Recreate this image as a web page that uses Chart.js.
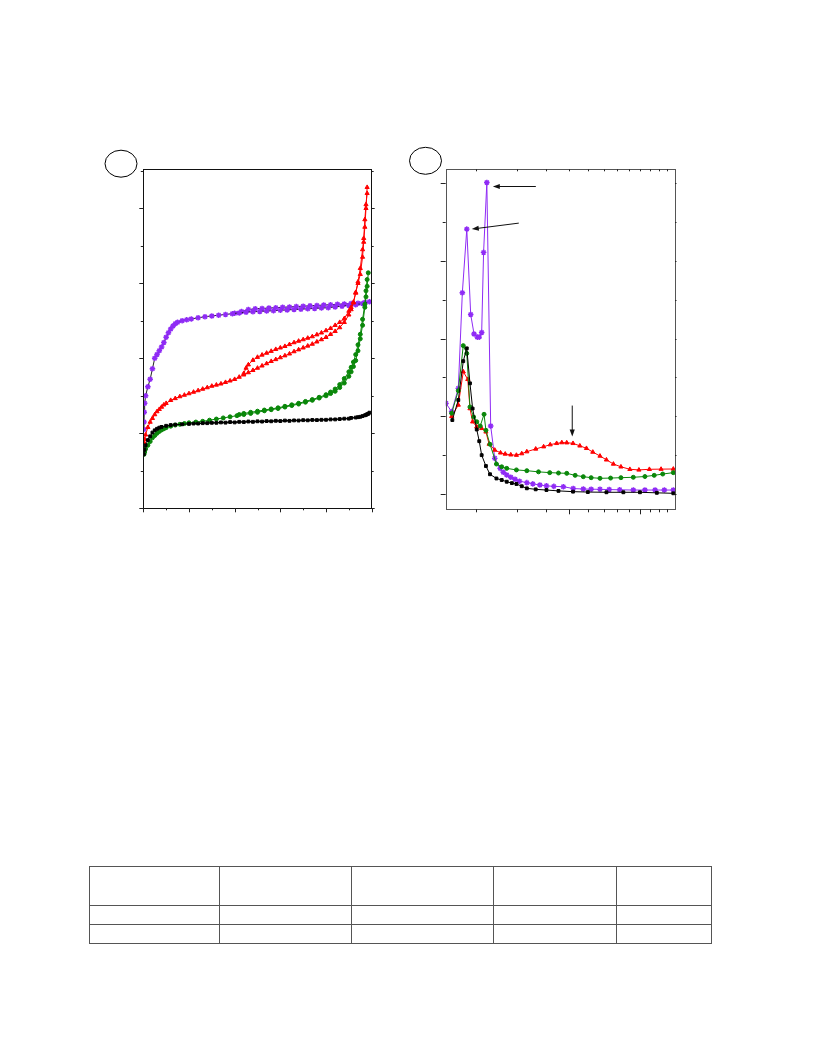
<!DOCTYPE html>
<html>
<head>
<meta charset="utf-8">
<script src="https://cdn.jsdelivr.net/npm/chart.js@4.4.1/dist/chart.umd.min.js"></script>
<style>
  body { margin: 0; background: #fff; width: 816px; height: 1056px; position: relative; font-family: "Liberation Serif", serif; }
  canvas { position: absolute; }
  #chartA { left: 100px; top: 140px; }
  #chartB { left: 400px; top: 140px; }
  table { position: absolute; left: 89px; top: 866px; border-collapse: collapse; }
  td { border: 1px solid #555; padding: 0; }
</style>
</head>
<body>
<canvas id="chartA" width="290" height="380"></canvas>
<canvas id="chartB" width="290" height="380"></canvas>
<table>
  <tr style="height:39px"><td style="width:129px"></td><td style="width:131px"></td><td style="width:141px"></td><td style="width:122px"></td><td style="width:94px"></td></tr>
  <tr style="height:19px"><td></td><td></td><td></td><td></td><td></td></tr>
  <tr style="height:19px"><td></td><td></td><td></td><td></td><td></td></tr>
</table>
<script>
// ---- (a) isotherms: relative pressure vs. adsorbed amount ----
const purpleAdsX = [0.002,0.003,0.004,0.006,0.01,0.02,0.03,0.04,0.05,0.06,0.07,0.08,0.09,0.10,0.11,0.12,0.13,0.14,0.15,0.17,0.19,0.21,0.24,0.27,0.30,0.33,0.36,0.39,0.42,0.45,0.48,0.51,0.54,0.57,0.60,0.63,0.66,0.69,0.72,0.75,0.78,0.81,0.84,0.87,0.90,0.93,0.96,0.99];
const purpleAdsY = [105,115,128,140,150,162,172,186,200,205,210,215,221,228,234,239,243,246,248,250,251.5,252.5,254,255.5,256.5,257.5,258.5,259.5,260.5,261.5,262,262.5,263,263.5,264,264.5,265,265.5,266,266.5,267,267.5,268.5,269.5,270.5,271.5,273,275.5];
const purpleDesX = [0.97,0.94,0.91,0.88,0.85,0.82,0.79,0.76,0.73,0.70,0.67,0.64,0.61,0.58,0.55,0.52,0.49,0.46,0.43,0.40];
const purpleDesY = [274.5,273.5,273,272.5,272,271.5,271,270.5,270,269.5,269,268.5,268,267.5,267,266.5,266,265,262.5,260];

const redAdsX = [0.003,0.006,0.01,0.02,0.03,0.04,0.05,0.06,0.07,0.08,0.09,0.10,0.12,0.14,0.16,0.18,0.20,0.22,0.24,0.26,0.28,0.30,0.32,0.34,0.36,0.38,0.40,0.42,0.44,0.46,0.48,0.50,0.52,0.54,0.56,0.58,0.60,0.62,0.64,0.66,0.68,0.70,0.72,0.74,0.76,0.78,0.80,0.82,0.84,0.86,0.88,0.90,0.91,0.92,0.93,0.94,0.95,0.96,0.965,0.97,0.975,0.98];
const redAdsY = [88,92,98,108,115,120,125,129,132,135,138,140,144,146.5,149,151,153,155,157,159,161,163,164.5,166,168,170,172,175,178,181,184,187,190,193,196,198.5,201,203.5,206,209,211.5,214,216.5,219,222,225,228,232,236,241,248,258,265,275,288,300,312,335,355,375,400,428];
const redDesX = [0.98,0.975,0.97,0.965,0.96,0.95,0.94,0.93,0.92,0.91,0.90,0.88,0.86,0.84,0.82,0.80,0.78,0.76,0.74,0.72,0.70,0.68,0.66,0.64,0.62,0.60,0.58,0.56,0.54,0.52,0.50,0.48,0.46,0.45,0.44];
const redDesY = [420,405,385,360,345,320,302,287,274,268,263,253,248,244,240,237,234,231.5,229,227,225,223,221,218.5,216,214,212,209.5,207,204.5,201.5,197.5,191.5,187,180];

const greenAdsX = [0.003,0.006,0.01,0.02,0.03,0.04,0.05,0.06,0.07,0.08,0.09,0.10,0.12,0.14,0.16,0.18,0.20,0.23,0.26,0.29,0.32,0.35,0.38,0.41,0.44,0.47,0.50,0.53,0.56,0.59,0.62,0.65,0.68,0.71,0.74,0.77,0.80,0.82,0.84,0.86,0.88,0.90,0.91,0.92,0.93,0.94,0.95,0.96,0.97,0.975,0.98,0.985];
const greenAdsY = [72,75,79,84,89,94,97,100,102.5,104.5,106,107.5,109.5,111,112,113,114,115,116,117.5,119,120.5,122,123.5,125,126.5,128,130,131.5,133,135,137,139,141.5,144,147,150,153,156,161,167,176,182,189,197,210,226,244,268,282,296,314];
const greenDesX = [0.98,0.975,0.97,0.96,0.95,0.94,0.93,0.92,0.91,0.90,0.88,0.86,0.84,0.82,0.80,0.77,0.74,0.71,0.68,0.65,0.62,0.59,0.56,0.53,0.50,0.47,0.44,0.42];
const greenDesY = [305,290,272,252,232,218,205,195,188,182,173,165,159,155,151.5,148,145,142.5,140,138,136,134,132.5,131,129.5,128,126.5,125];

const blackAdsX = [0.002,0.005,0.01,0.02,0.03,0.04,0.05,0.06,0.07,0.08,0.10,0.12,0.14,0.17,0.20,0.24,0.28,0.32,0.36,0.40,0.44,0.48,0.52,0.56,0.60,0.64,0.68,0.72,0.76,0.80,0.84,0.88,0.91,0.94,0.96,0.975,0.985,0.99];
const blackAdsY = [72,78,84,91,96,101,104,106,107.5,108.5,110,111,111.5,112,112.5,113,113.5,114,114.2,114.5,115,115.3,115.6,116,116.3,116.6,117,117.3,117.6,118,118.5,119.5,120.5,121.5,123,124.5,126,127.5];
const blackDesX = [0.98,0.97,0.95,0.93,0.90,0.86,0.82,0.78,0.74,0.70,0.66,0.62,0.58,0.54,0.50,0.46,0.42,0.38,0.34,0.30,0.26,0.22];
const blackDesY = [125.5,124,122,121,119.5,119,118.5,118,117.8,117.5,117.2,117,116.7,116.3,116,115.7,115.3,115,114.5,114,113.5,113];

const aXMajor = [0,0.2,0.4,0.6,0.8,1.0];
const aXMinor = [0.1,0.3,0.5,0.7,0.9];
const aYMajor = [0,100,200,300,400];
const aYMinor = [50,150,250,350,450];

// ---- (b) pore size distribution (log x) ----
const bPurpleX = [1.494,1.58,1.686,1.754,1.832,1.904,1.967,2.03,2.07,2.12,2.16,2.23,2.316,2.41,2.54,2.62,2.71,2.82,2.94,3.07,3.30,3.50,3.75,4.0,4.3,4.72,5.2,5.74,6.2,6.76,7.4,8.2,9.37,10.5,11.6,12.7,13.87];
const bPurpleY = [1.167,1.06,1.36,2.59,3.41,2.31,2.06,2.02,2.02,2.08,3.11,4.01,0.875,0.459,0.33,0.28,0.245,0.215,0.19,0.165,0.146,0.13,0.116,0.105,0.098,0.094,0.07,0.064,0.062,0.06,0.057,0.054,0.051,0.051,0.051,0.051,0.051];
const bGreenX = [1.58,1.686,1.77,1.832,1.89,1.96,2.02,2.09,2.17,2.21,2.30,2.45,2.58,2.71,2.98,3.30,3.7,4.13,4.5,4.88,5.3,5.74,6.2,6.76,7.5,8.3,9.37,10.5,11.5,12.5,13.87];
const bGreenY = [1.04,1.33,1.91,1.81,1.12,0.99,0.93,0.875,1.026,0.82,0.64,0.386,0.35,0.33,0.31,0.30,0.285,0.275,0.27,0.266,0.24,0.223,0.21,0.202,0.205,0.21,0.215,0.225,0.24,0.257,0.275];
const bRedX = [1.58,1.686,1.77,1.85,1.89,1.94,2.02,2.12,2.21,2.28,2.41,2.55,2.67,2.82,2.98,3.14,3.30,3.6,3.89,4.15,4.42,4.65,4.88,5.19,5.55,5.92,6.3,6.76,7.2,7.71,8.3,9.06,9.9,10.97,12.3,13.87];
const bRedY = [1.0,1.146,1.574,1.476,1.10,0.93,0.866,0.845,0.80,0.643,0.566,0.53,0.515,0.505,0.50,0.52,0.545,0.58,0.609,0.635,0.652,0.662,0.66,0.652,0.62,0.588,0.54,0.489,0.44,0.386,0.35,0.318,0.31,0.318,0.32,0.322];
const bBlackX = [1.59,1.686,1.77,1.832,1.89,1.94,2.02,2.07,2.12,2.21,2.30,2.45,2.58,2.71,2.85,2.98,3.14,3.30,3.6,4.0,4.5,5.19,6.0,7.2,8.5,10.0,11.8,13.87];
const bBlackY = [0.952,1.21,1.71,1.875,1.425,1.10,0.83,0.68,0.50,0.36,0.254,0.20,0.18,0.158,0.14,0.129,0.1,0.073,0.06,0.051,0.04,0.03,0.025,0.022,0.022,0.022,0.015,0.009];

const bXTicks = [2,3,4,5,6,7,8,9,10,11,12,13];
const bXMajor = [5,10];
const bYMajor = [0,1,2,3,4];
const bYMinor = [0.5,1.5,2.5,3.5];

const PURPLE = '#8f2bf5';
const RED = '#ff0000';
const GREEN = '#0a870a';
const BLACK = '#000000';

function pts(xs, ys) {
    return xs.map((x, i) => ({ x: x, y: ys[i] }));
}

function series(xs, ys, color, style, radius, lineColor) {
    return {
        data: pts(xs, ys),
        borderColor: lineColor || color,
        backgroundColor: color,
        pointBorderColor: color,
        pointBackgroundColor: color,
        pointStyle: style,
        pointRadius: radius,
        pointBorderWidth: style === 'star' ? 1.4 : 1,
        borderWidth: 1,
        tension: 0
    };
}

// frame, tick marks and the circled panel letter
function axesPlugin(cfg) {
    return {
        id: 'frameTicks',
        afterDraw(chart) {
            const ctx = chart.ctx;
            const a = chart.chartArea;
            const xs = chart.scales.x, ys = chart.scales.y;
            ctx.save();
            ctx.strokeStyle = cfg.frameColor;
            ctx.lineWidth = 1;
            ctx.strokeRect(Math.round(a.left) + 0.5, Math.round(a.top) + 0.5, Math.round(a.right - a.left), Math.round(a.bottom - a.top));
            ctx.strokeStyle = '#222';
            ctx.beginPath();
            cfg.yMajor.forEach(v => {
                const y = Math.round(ys.getPixelForValue(v)) + 0.5;
                ctx.moveTo(a.left, y); ctx.lineTo(a.left - cfg.yMajLen, y);
                ctx.moveTo(a.right, y); ctx.lineTo(a.right + cfg.rMajLen, y);
            });
            cfg.yMinor.forEach(v => {
                const y = Math.round(ys.getPixelForValue(v)) + 0.5;
                ctx.moveTo(a.left, y); ctx.lineTo(a.left - cfg.yMinLen, y);
                ctx.moveTo(a.right, y); ctx.lineTo(a.right + cfg.rMinLen, y);
            });
            cfg.xMajor.forEach(v => {
                const x = Math.round(xs.getPixelForValue(v)) + 0.5;
                ctx.moveTo(x, a.bottom); ctx.lineTo(x, a.bottom + cfg.xMajLen);
                if (cfg.topLen) { ctx.moveTo(x, a.top); ctx.lineTo(x, a.top + cfg.topLen); }
            });
            cfg.xMinor.forEach(v => {
                const x = Math.round(xs.getPixelForValue(v)) + 0.5;
                ctx.moveTo(x, a.bottom); ctx.lineTo(x, a.bottom + cfg.xMinLen);
                if (cfg.topLen) { ctx.moveTo(x, a.top); ctx.lineTo(x, a.top + cfg.topLen); }
            });
            ctx.stroke();
            // circled panel letter
            ctx.strokeStyle = '#000';
            ctx.beginPath();
            ctx.ellipse(cfg.circle[0], cfg.circle[1], 16, 13.5, 0, 0, Math.PI * 2);
            ctx.stroke();
            ctx.restore();
            if (cfg.extra) cfg.extra(chart);
        }
    };
}

function arrow(ctx, x1, y1, x2, y2) {
    const ang = Math.atan2(y2 - y1, x2 - x1);
    const hl = 7, hw = 2.6;
    ctx.beginPath();
    ctx.moveTo(x1, y1);
    ctx.lineTo(x2 - Math.cos(ang) * hl * 0.8, y2 - Math.sin(ang) * hl * 0.8);
    ctx.stroke();
    ctx.beginPath();
    ctx.moveTo(x2, y2);
    ctx.lineTo(x2 - Math.cos(ang) * hl - Math.sin(ang) * hw, y2 - Math.sin(ang) * hl + Math.cos(ang) * hw);
    ctx.lineTo(x2 - Math.cos(ang) * hl + Math.sin(ang) * hw, y2 - Math.sin(ang) * hl - Math.cos(ang) * hw);
    ctx.closePath();
    ctx.fill();
}

const hidden = { display: false };

new Chart(document.getElementById('chartA'), {
    type: 'line',
    data: {
        datasets: [
            series(blackAdsX, blackAdsY, BLACK, 'rect', 2),
            series(blackDesX, blackDesY, BLACK, 'rect', 2),
            series(greenAdsX, greenAdsY, GREEN, 'circle', 2),
            series(greenDesX, greenDesY, GREEN, 'circle', 2),
            series(redAdsX, redAdsY, RED, 'triangle', 2.4),
            series(redDesX, redDesY, RED, 'triangle', 2.4),
            series(purpleAdsX, purpleAdsY, PURPLE, 'star', 2.8, '#222'),
            series(purpleDesX, purpleDesY, PURPLE, 'star', 2.8, '#222')
        ]
    },
    options: {
        responsive: false,
        animation: false,
        devicePixelRatio: 1,
        layout: { padding: { left: 43.3, right: 18.3, top: 29.3, bottom: 11.7 } },
        plugins: { legend: hidden, tooltip: { enabled: false } },
        scales: {
            x: { type: 'linear', min: 0, max: 1, display: false },
            y: { type: 'linear', min: 0, max: 452, display: false }
        }
    },
    plugins: [axesPlugin({
        frameColor: '#111',
        xMajor: aXMajor, xMinor: aXMinor, yMajor: aYMajor, yMinor: aYMinor,
        xMajLen: 4, xMinLen: 2, yMajLen: 4, yMinLen: 2.5, rMajLen: 3, rMinLen: 2, topLen: 0,
        circle: [21, 23.7]
    })]
});

new Chart(document.getElementById('chartB'), {
    type: 'line',
    data: {
        datasets: [
            series(bBlackX, bBlackY, BLACK, 'rect', 2),
            series(bGreenX, bGreenY, GREEN, 'circle', 2),
            series(bRedX, bRedY, RED, 'triangle', 2.4),
            series(bPurpleX, bPurpleY, PURPLE, 'star', 2.8)
        ]
    },
    options: {
        responsive: false,
        animation: false,
        devicePixelRatio: 1,
        layout: { padding: { left: 45.7, right: 15, top: 29.3, bottom: 10.7 } },
        plugins: { legend: hidden, tooltip: { enabled: false } },
        scales: {
            x: { type: 'logarithmic', min: 1.49, max: 14.1, display: false },
            y: { type: 'linear', min: -0.197, max: 4.18, display: false }
        }
    },
    plugins: [axesPlugin({
        frameColor: '#555',
        xMajor: bXMajor, xMinor: bXTicks.filter(v => !bXMajor.includes(v)),
        yMajor: bYMajor, yMinor: bYMinor,
        xMajLen: 5, xMinLen: 3, yMajLen: 5, yMinLen: 3, rMajLen: 1.5, rMinLen: 1.5, topLen: 2,
        circle: [25.5, 20.8],
        extra(chart) {
            const ctx = chart.ctx;
            const xs = chart.scales.x, ys = chart.scales.y;
            ctx.save();
            ctx.strokeStyle = '#111';
            ctx.fillStyle = '#111';
            ctx.lineWidth = 1;
            // arrows pointing at the two micropore peaks and the mesopore bump
            const p1x = xs.getPixelForValue(bPurpleX[11]), p1y = ys.getPixelForValue(bPurpleY[11]);
            arrow(ctx, p1x + 49, p1y + 4, p1x + 6, p1y + 4);
            const p2x = xs.getPixelForValue(bPurpleX[4]), p2y = ys.getPixelForValue(bPurpleY[4]);
            arrow(ctx, p2x + 52, p2y - 6, p2x + 5, p2y);
            const p3x = xs.getPixelForValue(5.15), p3y = ys.getPixelForValue(0.662);
            arrow(ctx, p3x, p3y - 37, p3x, p3y - 6);
            ctx.restore();
        }
    })]
});
</script>
</body>
</html>
